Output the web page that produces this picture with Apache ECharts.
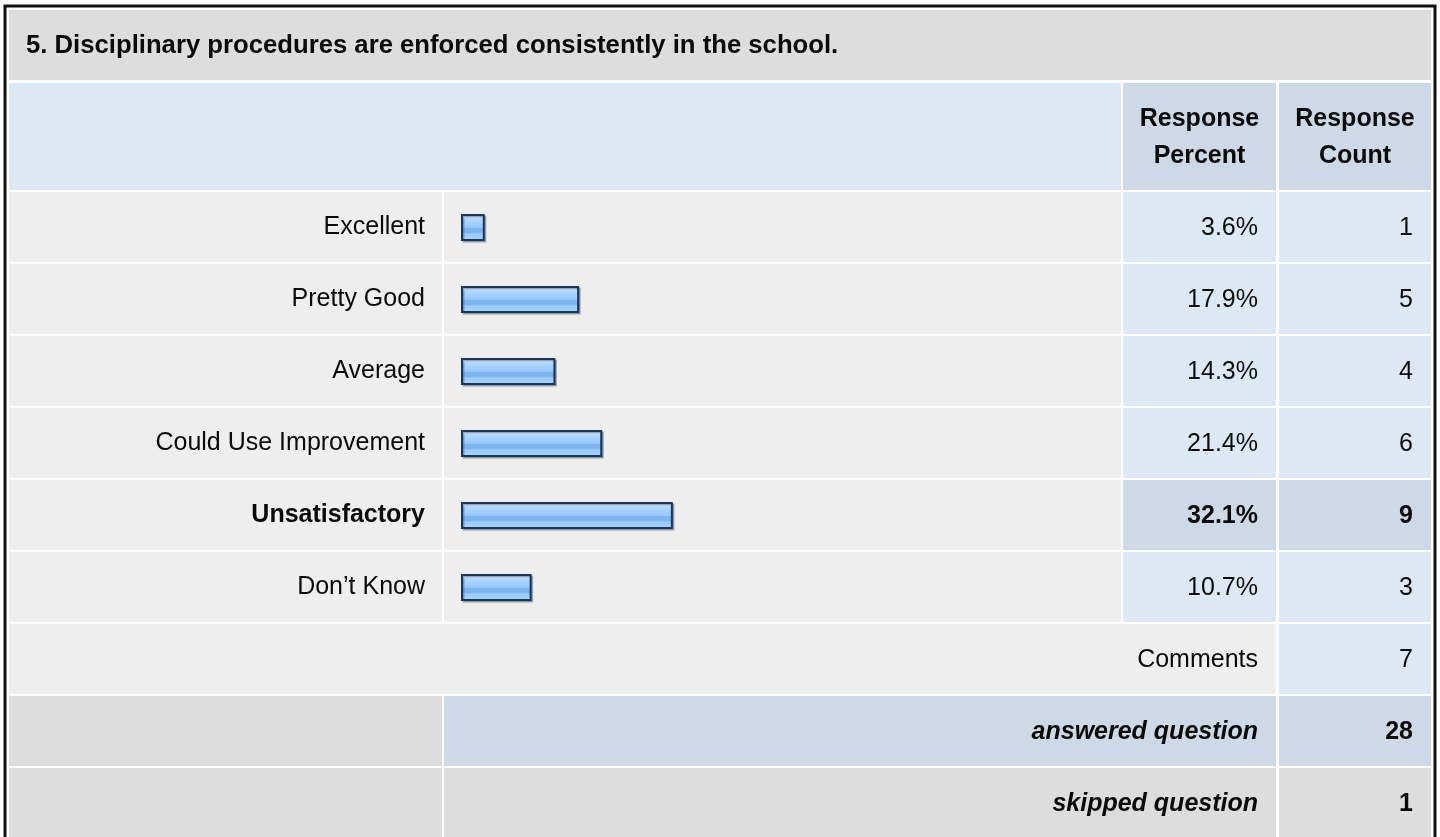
<!DOCTYPE html>
<html>
<head>
<meta charset="utf-8">
<title>Survey question 5</title>
<script src="https://cdn.jsdelivr.net/npm/echarts@6/dist/echarts.min.js"></script>
<style>
  html, body { margin: 0; padding: 0; background: #fff; }
  #chart { width: 1440px; height: 837px; }
</style>
</head>
<body>
<div id="chart"></div>
<script>
// data
const questionTitle = '5. Disciplinary procedures are enforced consistently in the school.'
const categories = ['Excellent', 'Pretty Good', 'Average', 'Could Use Improvement', 'Unsatisfactory', 'Don\u2019t Know']
const percents = [3.6, 17.9, 14.3, 21.4, 32.1, 10.7]
const counts = [1, 5, 4, 6, 9, 3]
const highlightIndex = 4 // most chosen answer is bold
const commentsCount = 7
const answeredCount = 28
const skippedCount = 1

// layout of the table
const FONT = '"Liberation Sans", Arial, sans-serif'
const FS = 25
const rowTop = 192
const rowPitch = 72
const rowH = 70
const colLabel = [9, 442]
const colBar = [444, 1121]
const colPct = [1123, 1276]
const colCnt = [1279, 1431]
const pctRight = 1258
const cntRight = 1413

const C_TITLE = '#dddddd'
const C_HEAD = '#dde8f5'
const C_HEAD2 = '#cdd9e6'
const C_ROW = '#eeeeee'
const C_CELL = '#dde8f5'
const C_TEXT = '#0a0a0a'

const chart = echarts.init(document.getElementById('chart'))

function cell(x0, x1, y, h, color) {
  return { type: 'rect', z: 0, silent: true, shape: { x: x0, y: y, width: x1 - x0, height: h }, style: { fill: color } }
}
function txt(text, x, y, align, weight, style, size) {
  return {
    type: 'text', z: 10, silent: true, x: x, y: y,
    style: {
      text: text, fill: C_TEXT, align: align, verticalAlign: 'middle',
      font: (style || 'normal') + ' ' + (weight || 'normal') + ' ' + (size || FS) + 'px ' + FONT
    }
  }
}

const graphics = []
// outer frame
graphics.push({ type: 'rect', z: -1, silent: true, shape: { x: 5, y: 6, width: 1430, height: 900 }, style: { fill: '#fff', stroke: '#111', lineWidth: 3 } })
// title row
graphics.push(cell(9, 1431, 10, 70, C_TITLE))
graphics.push(txt(questionTitle, 26, 46, 'left', 'bold', 'normal', 25.7))
// header row
graphics.push(cell(9, colBar[1], 83, 107, C_HEAD))
graphics.push(cell(colPct[0], colPct[1], 83, 107, C_HEAD2))
graphics.push(cell(colCnt[0], colCnt[1], 83, 107, C_HEAD2))
graphics.push(txt('Response', (colPct[0] + colPct[1]) / 2, 119, 'center', 'bold'))
graphics.push(txt('Percent', (colPct[0] + colPct[1]) / 2, 156, 'center', 'bold'))
graphics.push(txt('Response', (colCnt[0] + colCnt[1]) / 2, 119, 'center', 'bold'))
graphics.push(txt('Count', (colCnt[0] + colCnt[1]) / 2, 156, 'center', 'bold'))

// answer rows
categories.forEach((c, i) => {
  const y = rowTop + i * rowPitch
  const hi = i === highlightIndex
  graphics.push(cell(colLabel[0], colLabel[1], y, rowH, C_ROW))
  graphics.push(cell(colBar[0], colBar[1], y, rowH, C_ROW))
  graphics.push(cell(colPct[0], colPct[1], y, rowH, hi ? C_HEAD2 : C_CELL))
  graphics.push(cell(colCnt[0], colCnt[1], y, rowH, hi ? C_HEAD2 : C_CELL))
  graphics.push(txt(percents[i].toFixed(1) + '%', pctRight, y + rowH / 2 + 1, 'right', hi ? 'bold' : 'normal'))
  graphics.push(txt(String(counts[i]), cntRight, y + rowH / 2 + 1, 'right', hi ? 'bold' : 'normal'))
})

// comments row
let yc = rowTop + categories.length * rowPitch
graphics.push(cell(colLabel[0], colPct[1], yc, rowH, C_ROW))
graphics.push(cell(colCnt[0], colCnt[1], yc, rowH, C_CELL))
graphics.push(txt('Comments', pctRight, yc + rowH / 2 + 1, 'right'))
graphics.push(txt(String(commentsCount), cntRight, yc + rowH / 2 + 1, 'right'))

// answered / skipped
yc += rowPitch
graphics.push(cell(colLabel[0], colLabel[1], yc, rowH, C_TITLE))
graphics.push(cell(colBar[0], colPct[1], yc, rowH, C_HEAD2))
graphics.push(cell(colCnt[0], colCnt[1], yc, rowH, C_HEAD2))
graphics.push(txt('answered question', pctRight, yc + rowH / 2 + 1, 'right', 'bold', 'italic'))
graphics.push(txt(String(answeredCount), cntRight, yc + rowH / 2 + 1, 'right', 'bold'))
yc += rowPitch
graphics.push(cell(colLabel[0], colLabel[1], yc, rowH, C_TITLE))
graphics.push(cell(colBar[0], colPct[1], yc, rowH, C_TITLE))
graphics.push(cell(colCnt[0], colCnt[1], yc, rowH, C_TITLE))
graphics.push(txt('skipped question', pctRight, yc + rowH / 2 + 1, 'right', 'bold', 'italic'))
graphics.push(txt(String(skippedCount), cntRight, yc + rowH / 2 + 1, 'right', 'bold'))

// glossy blue bar fill
const barFill = new echarts.graphic.LinearGradient(0, 0, 0, 1, [
  { offset: 0, color: '#d8ebff' },
  { offset: 0.16, color: '#d8ebff' },
  { offset: 0.16, color: '#b6daff' },
  { offset: 0.3, color: '#a4d1ff' },
  { offset: 0.5, color: '#98c9fd' },
  { offset: 0.52, color: '#7fb4ee' },
  { offset: 0.7, color: '#7fb4ee' },
  { offset: 0.72, color: '#94c8fb' },
  { offset: 1, color: '#abd6ff' }
])

chart.setOption({
  animation: false,
  graphic: { elements: graphics },
  grid: { left: 461, top: 191.5, width: 660, height: categories.length * rowPitch },
  xAxis: {
    type: 'value', min: 0, max: 100,
    axisLine: { show: false }, axisTick: { show: false },
    axisLabel: { show: false }, splitLine: { show: false }
  },
  yAxis: {
    type: 'category',
    inverse: true,
    data: categories,
    axisLine: { show: false },
    axisTick: { show: false },
    splitLine: { show: false },
    axisLabel: {
      margin: 36,
      fontFamily: FONT,
      fontSize: FS,
      color: C_TEXT,
      formatter: (v, i) => (i === highlightIndex ? '{b|' + v + '}' : v),
      rich: { b: { fontFamily: FONT, fontSize: FS, fontWeight: 'bold', color: C_TEXT } }
    }
  },
  series: [
    {
      type: 'bar',
      data: percents,
      barWidth: 27,
      z: 5,
      itemStyle: {
        color: barFill,
        borderColor: '#1d365c',
        borderWidth: 2,
        shadowColor: 'rgba(60,80,110,0.45)',
        shadowOffsetX: 1.5,
        shadowOffsetY: 1.5,
        shadowBlur: 0
      }
    }
  ]
})

window.addEventListener('resize', () => chart.resize())
</script>
</body>
</html>
